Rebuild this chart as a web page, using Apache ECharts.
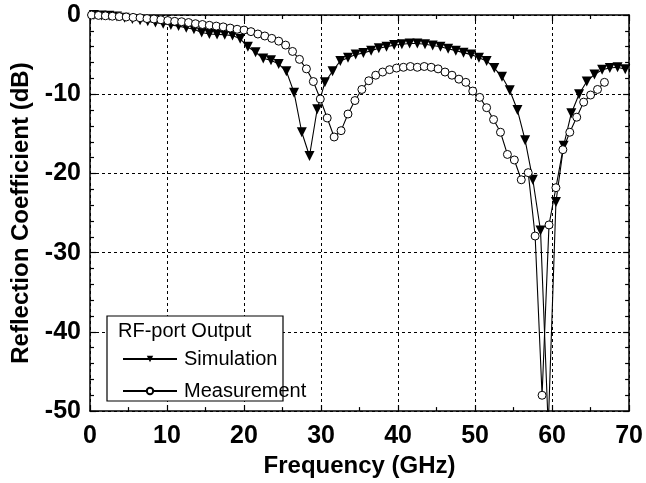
<!DOCTYPE html>
<html>
<head>
<meta charset="utf-8">
<script src="https://cdn.jsdelivr.net/npm/echarts@6/dist/echarts.min.js"></script>
<style>
  html, body { margin: 0; padding: 0; background: #fff; }
  #chart { width: 646px; height: 483px; }
</style>
</head>
<body>
<div id="chart"></div>
<script>
// Reflection coefficient at the RF port: simulated vs measured (dB over GHz)
const freqSim = [
  0.5, 1.5, 2.5, 3.5, 4.5, 5.5, 6.5, 7.5, 8.5, 9.5,
  10.5, 11.5, 12.5, 13.5, 14.5, 15.5, 16.5, 17.5, 18.5, 19.5,
  20.5, 21.5, 22.5, 23.5, 24.5, 25.5, 26.5, 27.5, 28.5, 29.5,
  30.5, 31.5, 32.5, 33.5, 34.5, 35.5, 36.5, 37.5, 38.5, 39.5,
  40.5, 41.5, 42.5, 43.5, 44.5, 45.5, 46.5, 47.5, 48.5, 49.5,
  50.5, 51.5, 52.5, 53.5, 54.5, 55.5, 56.5, 57.5, 58.5, 59.5,
  60.5, 61.5, 62.5, 63.5, 64.5, 65.5, 66.5, 67.5, 68.5, 69.5
];
const s11Sim = [
  0.0, -0.05, -0.1, -0.2, -0.35, -0.5, -0.65, -0.8, -0.95, -1.1,
  -1.25, -1.4, -1.6, -1.8, -2.2, -2.4, -2.45, -2.5, -2.6, -3.0,
  -4.0, -4.7, -5.5, -5.7, -6.2, -7.1, -9.8, -14.8, -17.8, -11.9,
  -8.5, -7.1, -5.8, -5.4, -5.0, -4.8, -4.5, -4.2, -4.0, -3.8,
  -3.7, -3.6, -3.6, -3.7, -3.85, -4.0, -4.25, -4.5, -4.75, -5.0,
  -5.4, -5.8, -6.7, -7.8, -9.5, -12.0, -15.8, -20.8, -27.2, -52.0,
  -23.6, -16.5, -12.4, -10.0, -8.4, -7.5, -6.9, -6.7, -6.6, -6.85
];
const freqMeas = [
  0.2, 1.1, 2.0, 2.9, 3.8, 4.7, 5.6, 6.5, 7.4, 8.3,
  9.2, 10.1, 11.0, 11.9, 12.8, 13.7, 14.6, 15.5, 16.4, 17.3,
  18.2, 19.1, 20.0, 20.9, 21.8, 22.7, 23.6, 24.5, 25.4, 26.3,
  27.2, 28.1, 29.0, 29.9, 30.8, 31.7, 32.6, 33.5, 34.4, 35.3,
  36.2, 37.1, 38.0, 38.9, 39.8, 40.7, 41.6, 42.5, 43.4, 44.3,
  45.2, 46.1, 47.0, 47.9, 48.8, 49.7, 50.6, 51.5, 52.4, 53.3,
  54.2, 55.1, 56.0, 56.9, 57.8, 58.7, 59.6, 60.5, 61.4, 62.3,
  63.2, 64.1, 65.0, 65.9, 66.8
];
const s11Meas = [
  0.0, -0.05, -0.1, -0.15, -0.2, -0.25, -0.3, -0.35, -0.45, -0.5,
  -0.6, -0.7, -0.8, -0.85, -0.95, -1.1, -1.2, -1.3, -1.4, -1.5,
  -1.65, -1.8, -1.9, -2.1, -2.4, -2.65, -2.95, -3.3, -3.8, -4.6,
  -5.6, -6.8, -8.4, -10.6, -13.0, -15.4, -14.6, -12.5, -10.8, -9.4,
  -8.3, -7.6, -7.2, -6.9, -6.7, -6.6, -6.5, -6.6, -6.5, -6.6,
  -6.8, -7.2, -7.6, -8.1, -8.5, -9.6, -10.4, -11.7, -13.2, -14.8,
  -17.6, -18.3, -20.8, -19.9, -27.9, -48.0, -26.5, -21.8, -17.0, -14.8,
  -12.9, -11.0, -10.1, -9.4, -8.5
];
const xTicks = { min: 0, max: 70, step: 10 };
const yTicks = { min: -50, max: 0, step: 10 };
const legendTitle = 'RF-port Output';
const seriesNames = ['Simulation', 'Measurement'];

const pairs = (xs, ys) => xs.map((x, i) => [x, ys[i]]);

const FONT = '"Liberation Sans", Arial, Helvetica, sans-serif';
const BLACK = '#000';

const tickLabel = { fontFamily: FONT, fontWeight: 'bold', fontSize: 25, color: BLACK };
const axisNameStyle = { fontFamily: FONT, fontWeight: 'bold', fontSize: 24, color: BLACK };
const tickLine = { color: BLACK, width: 1.2 };
const frameLine = { color: BLACK, width: 1.5 };
const gridDash = { color: BLACK, width: 1, type: [3, 3] };

function makeX(pos, main) {
  const ax = {
    type: 'value', position: pos,
    min: xTicks.min, max: xTicks.max, interval: xTicks.step,
    axisLine: { show: true, onZero: false, lineStyle: frameLine },
    axisTick: { show: true, inside: true, length: 6, lineStyle: tickLine },
    minorTick: { show: true, splitNumber: 2, length: 4, lineStyle: tickLine },
    axisLabel: { show: false },
    splitLine: { show: false }
  };
  if (main) {
    ax.name = 'Frequency (GHz)';
    ax.nameLocation = 'middle';
    ax.nameGap = 40;
    ax.nameTextStyle = axisNameStyle;
    ax.axisLabel = Object.assign({ show: true, margin: 13 }, tickLabel);
    ax.splitLine = { show: true, lineStyle: gridDash };
  }
  return ax;
}
function makeY(pos, main) {
  const ax = {
    type: 'value', position: pos,
    min: yTicks.min, max: yTicks.max, interval: yTicks.step,
    axisLine: { show: true, onZero: false, lineStyle: frameLine },
    axisTick: { show: true, inside: true, length: 6, lineStyle: tickLine },
    minorTick: { show: true, splitNumber: 5, length: 4, lineStyle: tickLine },
    axisLabel: { show: false },
    splitLine: { show: false }
  };
  if (main) {
    ax.name = 'Reflection Coefficient (dB)';
    ax.nameLocation = 'middle';
    ax.nameGap = 57;
    ax.nameTextStyle = axisNameStyle;
    ax.axisLabel = Object.assign({ show: true, margin: 9 }, tickLabel);
    ax.splitLine = { show: true, lineStyle: gridDash };
  }
  return ax;
}

const chart = echarts.init(document.getElementById('chart'), null, { renderer: 'canvas' });
chart.setOption({
  animation: false,
  backgroundColor: '#fff',
  grid: { left: 90, right: 15, top: 15, bottom: 68, containLabel: false },
  xAxis: [makeX('bottom', true), makeX('top', false)],
  yAxis: [makeY('left', true), makeY('right', false)],
  graphic: [
    {
      type: 'rect', z: 50,
      shape: { x: 107, y: 316, width: 176, height: 85 },
      style: { fill: '#fff', stroke: BLACK, lineWidth: 1.2 }
    },
    {
      type: 'text', z: 51, left: 118, top: 321,
      style: { text: legendTitle, fontFamily: FONT, fontSize: 20, fill: BLACK }
    }
  ],
  legend: {
    z: 60, orient: 'vertical', left: 117, top: 344,
    itemWidth: 54, itemHeight: 8, itemGap: 12,
    textStyle: { fontFamily: FONT, fontSize: 20, color: BLACK, padding: [0, 0, 0, 2] },
    data: seriesNames
  },
  series: [
    {
      name: seriesNames[0], type: 'line', xAxisIndex: 0, yAxisIndex: 0,
      data: pairs(freqSim, s11Sim),
      symbol: 'triangle', symbolRotate: 180, symbolSize: 10,
      lineStyle: { color: BLACK, width: 1.1 },
      itemStyle: { color: BLACK, borderColor: BLACK, borderWidth: 0 },
      clip: true, z: 3
    },
    {
      name: seriesNames[1], type: 'line', xAxisIndex: 0, yAxisIndex: 0,
      data: pairs(freqMeas, s11Meas),
      symbol: 'circle', symbolSize: 8,
      lineStyle: { color: BLACK, width: 1.1 },
      itemStyle: { color: '#fff', borderColor: BLACK, borderWidth: 1 },
      clip: true, z: 4
    }
  ]
});
</script>
</body>
</html>
